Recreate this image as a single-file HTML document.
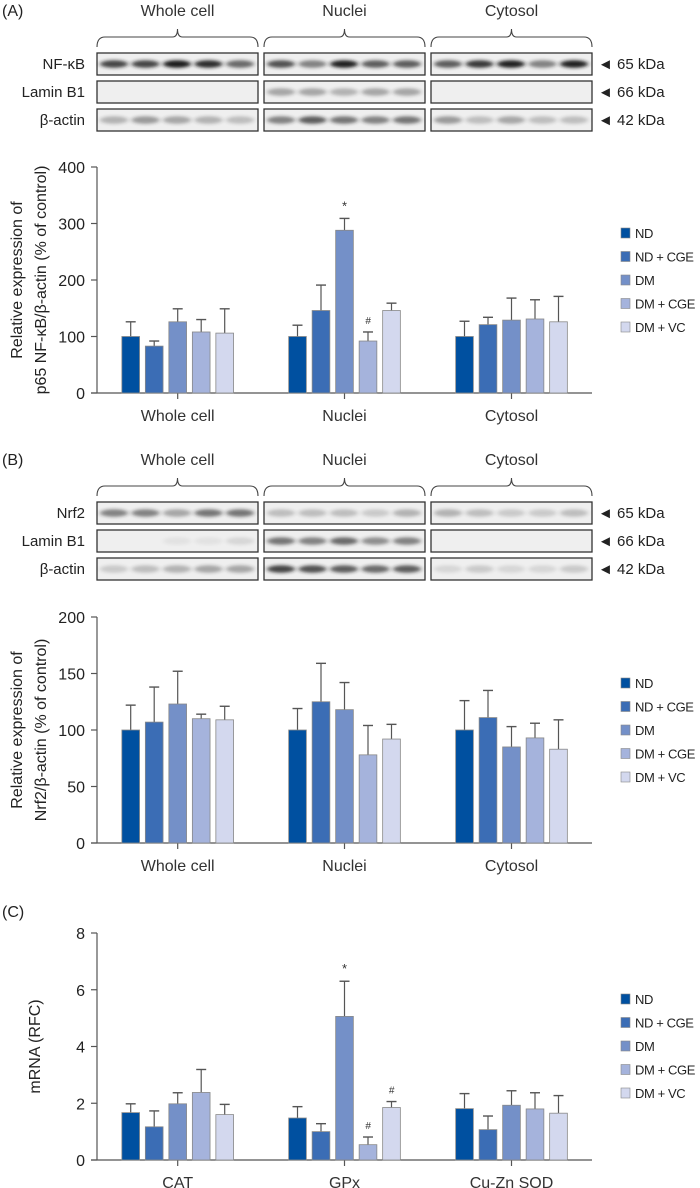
<!DOCTYPE html>
<html><head><meta charset="utf-8">
<style>
html,body{margin:0;padding:0;background:#fff;}
svg{display:block;font-family:"Liberation Sans",sans-serif;}
</style></head>
<body>
<svg id="fig" width="700" height="1188" viewBox="0 0 700 1188" xmlns="http://www.w3.org/2000/svg">
<defs>
<filter id="blur" x="-50%" y="-100%" width="200%" height="300%"><feGaussianBlur stdDeviation="2.4 1.6"/></filter>
</defs>
</svg>
<script>
// ---- data ----
const groupsAB = ["Whole cell","Nuclei","Cytosol"];
const groupsC = ["CAT","GPx","Cu-Zn SOD"];
const seriesNames = ["ND","ND + CGE","DM","DM + CGE","DM + VC"];
const ticksA = [0,100,200,300,400];
const ticksB = [0,50,100,150,200];
const ticksC = [0,2,4,6,8];
// panel A values (rows = groups, cols = series)
const meanA_whole = [100,83,126,108,106];
const meanA_nuclei = [100,146,288,92,146];
const meanA_cytosol = [100,121,129,131,126];
const errA_whole = [126,92,149,130,149];
const errA_nuclei = [120,191,309,108,159];
const errA_cytosol = [127,134,168,165,171];
const markA_nuclei = ["","","*","#",""];
// panel B
const meanB_whole = [100,107,123,110,109];
const meanB_nuclei = [100,125,118,78,92];
const meanB_cytosol = [100,111,85,93,83];
const errB_whole = [122,138,152,114,121];
const errB_nuclei = [119,159,142,104,105];
const errB_cytosol = [126,135,103,106,109];
// panel C
const meanC_cat = [1.67,1.17,1.98,2.38,1.6];
const meanC_gpx = [1.48,1.0,5.06,0.54,1.85];
const meanC_sod = [1.81,1.07,1.93,1.8,1.65];
const errC_cat = [1.98,1.73,2.37,3.19,1.96];
const errC_gpx = [1.88,1.28,6.3,0.81,2.06];
const errC_sod = [2.34,1.55,2.44,2.37,2.27];
const markC_gpx = ["","","*","#","#"];

const colors = ["#0050a0","#3b6db5","#7490c8","#a5b3dc","#d3d8ee"];
const NS = "http://www.w3.org/2000/svg";
const svg = document.getElementById("fig");
function mk(tag, attrs, parent){
  const e = document.createElementNS(NS, tag);
  for (const k in attrs) e.setAttribute(k, attrs[k]);
  (parent||svg).appendChild(e);
  return e;
}
function txt(s, attrs, parent){ const t = mk("text", attrs, parent); t.textContent = s; return t; }

// ---- blots ----
const blotX = [97,264,431];
const blotW = 161;
function brace(x0, x1, yTop, g){
  const c = (x0+x1)/2, yb = yTop+18, ym = yTop+8;
  const p = mk("path",{d:`M${x0},${yb} Q${x0},${ym} ${x0+8},${ym} L${c-5},${ym} Q${c},${ym} ${c},${yTop} Q${c},${ym} ${c+5},${ym} L${x1-8},${ym} Q${x1},${ym} ${x1},${yb}`,fill:"none",stroke:"#444","stroke-width":1.1}, g);
  
  
}
function blotPanel(letter, top, rowNames, kda, intens){
  const g = mk("g",{});
  
  
  const pl = txt("("+letter+")",{x:2,y:top+6,"font-size":16,fill:"#222"},g);
  
  
  groupsAB.forEach((name,i)=>{
    const t = txt(name,{x:blotX[i]+blotW/2,y:top+6,"font-size":16,fill:"#333","text-anchor":"middle"},g);
    
    
    brace(blotX[i], blotX[i]+blotW, top+19, g);
  });
  rowNames.forEach((rn,r)=>{
    const y = top+43 + r*28;
    const l = txt(rn,{x:85,y:y+16,"font-size":15,fill:"#222","text-anchor":"end"},g);
    
    
    blotX.forEach((bx,i)=>{
      const rect = mk("rect",{x:bx,y:y,width:blotW,height:22,fill:"#efefef",stroke:"#333","stroke-width":1.3},g);
      
      
      for(let k=0;k<5;k++){
        const a = intens[r][i][k];
        if(a<=0) continue;
        const e = mk("ellipse",{cx:bx+17+k*31.5,cy:y+11,rx:14,ry:3.8,fill:"#1a1a1a",opacity:Math.min(1,a*1.15),filter:"url(#blur)"},g);
        
        
      }
    });
    const k = txt("\u25C4 "+kda[r],{x:598,y:y+16,"font-size":15,fill:"#222"},g);
    
    
  });
}
blotPanel("A",10,["NF-\u03BAB","Lamin B1","\u03B2-actin"],["65 kDa","66 kDa","42 kDa"],[
  [[.7,.7,.9,.8,.55],[.65,.45,.85,.6,.6],[.6,.75,.85,.45,.85]],
  [[0,0,0,0,0],[.3,.3,.25,.3,.3],[0,0,0,0,0]],
  [[.25,.35,.3,.25,.2],[.45,.6,.5,.45,.5],[.35,.2,.3,.2,.2]]]);
blotPanel("B",459,["Nrf2","Lamin B1","\u03B2-actin"],["65 kDa","66 kDa","42 kDa"],[
  [[.45,.45,.3,.5,.5],[.2,.2,.2,.15,.25],[.25,.2,.15,.15,.2]],
  [[0,0,.05,.05,.1],[.5,.45,.55,.4,.45],[0,0,0,0,0]],
  [[.15,.2,.25,.3,.3],[.7,.65,.6,.55,.6],[.1,.15,.1,.1,.15]]]);

// ---- bar charts ----
function chart(id, yTop, y0, maxV, ticks, cats, means, errs, marks, titleLines){
  const g = mk("g",{});
  
  
  const xL = 97, xR = 592;
  const centers = [177.7,344.5,511.5];
  const pitch = 23.5, bw = 17.7;
  const yScale = v => y0 - (v/maxV)*(y0-yTop);
  const ya = mk("line",{x1:xL,y1:yTop,x2:xL,y2:y0,stroke:"#555","stroke-width":1.2},g);
  
  
  const xa = mk("line",{x1:xL-6,y1:y0,x2:xR,y2:y0,stroke:"#555","stroke-width":1.2},g);
  
  
  ticks.forEach(t=>{
    const y = yScale(t);
    const tl = mk("line",{x1:xL-6,y1:y,x2:xL,y2:y,stroke:"#555","stroke-width":1.2},g);
    
    
    const tt = txt(String(t),{x:85,y:y+6,"font-size":16,fill:"#222","text-anchor":"end"},g);
    
    
  });
  cats.forEach((c,i)=>{
    const cx = centers[i];
    const tk = mk("line",{x1:cx,y1:y0,x2:cx,y2:y0+6,stroke:"#555","stroke-width":1.2},g);
    
    
    const ct = txt(c,{x:cx,y:y0+28,"font-size":16,fill:"#333","text-anchor":"middle"},g);
    
    
    means[i].forEach((v,s)=>{
      const x = cx + (s-2)*pitch - bw/2;
      const yv = yScale(v), ye = yScale(errs[i][s]);
      const bx = x + bw/2;
      const el = mk("line",{x1:bx,y1:yv,x2:bx,y2:ye,stroke:"#555","stroke-width":1.2},g);
      
      
      const ec = mk("line",{x1:bx-5,y1:ye,x2:bx+5,y2:ye,stroke:"#555","stroke-width":1.4},g);
      
      
      const r = mk("rect",{x:x,y:yv,width:bw,height:y0-yv,fill:colors[s],stroke:"#888","stroke-width":0.8},g);
      
      
      const m = marks[i][s];
      if(m){
        const mt = txt(m,{x:bx,y:ye-8,"font-size":m==="*"?13:10,fill:"#333","text-anchor":"middle","font-style":m==="#"?"italic":"normal"},g);
        
        
      }
    });
  });
  const cy = (yTop+y0)/2;
  titleLines.forEach((ln,k)=>{
    const x = titleLines.length===2 ? 18+k*24 : 36;
    const t = txt(ln,{x:x,y:cy,"font-size":16,fill:"#222","text-anchor":"middle",transform:`rotate(-90 ${x} ${cy})`,"dominant-baseline":"middle"},g);
    
    
  });
  seriesNames.forEach((n,s)=>{
    const ly = yTop + 66 + s*23.5;
    const sq = mk("rect",{x:621,y:ly-5,width:9,height:10,fill:colors[s],stroke:"#888","stroke-width":0.6},g);
    
    
    const lt = txt(n,{x:635,y:ly+5,"font-size":13,"letter-spacing":"-0.4",fill:"#222"},g);
    
    
  });
}
chart("chart-a-nfkb",167,393,400,ticksA,groupsAB,
  [meanA_whole,meanA_nuclei,meanA_cytosol],[errA_whole,errA_nuclei,errA_cytosol],
  [["","","","",""],markA_nuclei,["","","","",""]],
  ["Relative expression of","p65 NF-\u03BAB/\u03B2-actin (% of control)"]);
chart("chart-b-nrf2",617,843,200,ticksB,groupsAB,
  [meanB_whole,meanB_nuclei,meanB_cytosol],[errB_whole,errB_nuclei,errB_cytosol],
  [["","","","",""],["","","","",""],["","","","",""]],
  ["Relative expression of","Nrf2/\u03B2-actin (% of control)"]);
const pc = txt("(C)",{x:2,y:917,"font-size":16,fill:"#222"});


chart("chart-c-mrna",933,1160,8,ticksC,groupsC,
  [meanC_cat,meanC_gpx,meanC_sod],[errC_cat,errC_gpx,errC_sod],
  [["","","","",""],markC_gpx,["","","","",""]],
  ["mRNA (RFC)"]);
</script>
</body></html>
